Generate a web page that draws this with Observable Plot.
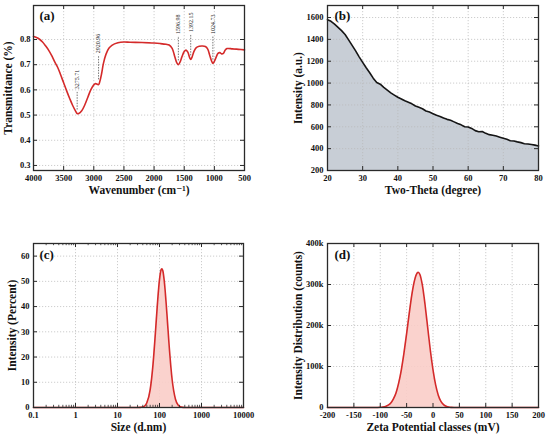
<!DOCTYPE html>
<html><head><meta charset="utf-8">
<script src="https://cdn.jsdelivr.net/npm/d3@7"></script>
<script src="https://cdn.jsdelivr.net/npm/@observablehq/plot@0.6"></script>
<style>
body{margin:0;background:#fff;}
#fig{position:relative;width:550px;height:437px;overflow:hidden;background:#fff;}
#fig svg{position:absolute;}
</style></head><body><div id="fig"></div>
<script>
// ---------- (a) FTIR ----------
const ftirWavenumber = [4000,3950,3900,3850,3800,3750,3700,3650,3600,3550,3500,3450,3400,3350,3300,3275,3250,3200,3150,3100,3050,3000,2970,2940,2920,2900,2870,2840,2800,2750,2700,2600,2500,2400,2200,2000,1900,1800,1750,1700,1660,1620,1597,1570,1540,1500,1470,1440,1410,1392,1370,1340,1300,1250,1200,1150,1110,1080,1050,1025,1000,970,940,910,880,850,820,790,700,600,500];
const ftirTransmittance = [0.812,0.808,0.801,0.790,0.775,0.758,0.737,0.712,0.690,0.660,0.628,0.596,0.566,0.538,0.515,0.506,0.506,0.517,0.540,0.570,0.600,0.620,0.625,0.622,0.621,0.633,0.665,0.705,0.740,0.765,0.777,0.787,0.790,0.789,0.788,0.786,0.784,0.781,0.778,0.765,0.735,0.706,0.700,0.710,0.730,0.752,0.758,0.750,0.728,0.721,0.730,0.752,0.768,0.773,0.774,0.772,0.762,0.740,0.717,0.705,0.713,0.730,0.745,0.748,0.743,0.745,0.758,0.764,0.763,0.761,0.759];
const ftirXTicks = [4000,3500,3000,2500,2000,1500,1000,500];
const ftirYTicks = [0.3,0.4,0.5,0.6,0.7,0.8];
const peakWavenumber = [3275.71,2920.96,1596.98,1392.15,1024.73];
const peakLabels = ["3275.71","2920.96","1596.98","1392.15","1024.73"];
const peakTextY = [0.603,0.745,0.822,0.830,0.822];
const peakLineTop = [0.59,0.735,0.812,0.82,0.812];
const peakLineBottom = [0.52,0.64,0.715,0.735,0.718];

// ---------- (b) XRD ----------
const xrdTheta = [20,21,22,23,24,25,26,27,28,29,30,31,32,33,34,35,36,37,38,39,40,41,42,43,44,45,46,47,48,49,50,51,52,53,54,55,56,57,58,59,60,61,62,63,64,65,66,67,68,69,70,71,72,73,74,75,76,77,78,79,80];
const xrdIntensity = [1580,1565,1540,1510,1480,1445,1395,1345,1295,1240,1190,1140,1095,1045,1005,990,960,935,910,890,870,855,838,825,810,790,778,765,745,735,720,705,695,680,668,660,645,630,618,600,598,585,565,555,557,540,528,522,515,505,495,485,472,470,462,455,445,442,438,432,425];
const xrdXTicks = [20,30,40,50,60,70,80];
const xrdYTicks = [200,400,600,800,1000,1200,1400,1600];

// ---------- (c) DLS size ----------
const dlsSize = [0.1,1,10,30,40,45,50,60,70,80,90,100,110,115,120,130,150,170,200,240,280,330,400,1000,10000];
const dlsIntensity = [0,0,0,0,0.2,0.7,1.9,7.1,17,29.7,41.9,50.7,54.7,55,54.2,50.1,37.2,24.3,11,3.3,0.9,0.2,0,0,0];
const dlsXTicks = [0.1,1,10,100,1000,10000];
const dlsXTickLabels = ["0.1","1","10","100","1000","10000"];
const dlsMinorTicks = [0.2,0.3,0.4,0.5,0.6,0.7,0.8,0.9,2,3,4,5,6,7,8,9,20,30,40,50,60,70,80,90,200,300,400,500,600,700,800,900,2000,3000,4000,5000,6000,7000,8000,9000];
const dlsYTicks = [0,10,20,30,40,50,60];

// ---------- (d) Zeta potential (counts, thousands) ----------
const zetaMv = [-200,-150,-110,-100,-95,-90,-85,-80,-75,-70,-65,-60,-55,-50,-45,-40,-35,-30,-28,-25,-20,-15,-10,-5,0,5,10,15,20,25,30,35,40,50,100,200];
const zetaCountsK = [0,0,0,0.5,1.2,2.7,5.7,11,21,36,60,92,133,180,230,276,310,328,330,325,297,250,194,139,92,55,30,15,7,3,1,0.3,0,0,0,0];
const zetaXTicks = [-200,-150,-100,-50,0,50,100,150,200];
const zetaYTicks = [0,100,200,300,400];

const RED = "#d42a2a", PINK = "#f9cdc8", FRAME = "#2a2a2a";
const fontStyle = {fontFamily: "'Liberation Serif', 'DejaVu Serif', serif", fontSize: "8.5px", fontWeight: "bold", color: "#111", background: "transparent", overflow: "visible"};
const gridOpts = {stroke: "#b8b8b8", strokeOpacity: 1, strokeWidth: 0.7, strokeDasharray: "1.2,1.8"};

function frameTicks(xT, yT, W, H, len, xMinor) {
  const m = [
    Plot.tickX(xT, {x: d => d, insetTop: H - len, stroke: FRAME, strokeWidth: 1}),
    Plot.tickX(xT, {x: d => d, insetBottom: H - len, stroke: FRAME, strokeWidth: 1}),
    Plot.tickY(yT, {y: d => d, insetRight: W - len, stroke: FRAME, strokeWidth: 1}),
    Plot.tickY(yT, {y: d => d, insetLeft: W - len, stroke: FRAME, strokeWidth: 1})
  ];
  if (xMinor) {
    m.push(Plot.tickX(xMinor, {x: d => d, insetTop: H - len * 0.55, stroke: FRAME, strokeWidth: 0.8}));
    m.push(Plot.tickX(xMinor, {x: d => d, insetBottom: H - len * 0.55, stroke: FRAME, strokeWidth: 0.8}));
  }
  return m;
}
function titles(letter, xTitle, yTitle, xdy, ydx, ldx, ldy) {
  return [
    Plot.text([xTitle], {frameAnchor: "bottom", textAnchor: "middle", lineAnchor: "middle", dy: xdy, fontSize: 11.5, fontWeight: "bold", fill: "#111"}),
    Plot.text([yTitle], {frameAnchor: "left", textAnchor: "middle", lineAnchor: "middle", rotate: -90, dx: ydx, fontSize: 11.5, fontWeight: "bold", fill: "#111"}),
    Plot.text([letter], {frameAnchor: "top-left", textAnchor: "start", lineAnchor: "top", dx: ldx, dy: ldy, fontSize: 13, fontWeight: "bold", fill: "#111"})
  ];
}
function place(svg, left, top) {
  svg.style.left = left + "px";
  svg.style.top = top + "px";
  document.getElementById("fig").appendChild(svg);
}

// (a)
{
  const ml = 33, mr = 31, mt = 5, mb = 45, w = 275, h = 215;
  const W = w - ml - mr, H = h - mt - mb;
  const data = ftirWavenumber.map((x, i) => ({x, y: ftirTransmittance[i]}));
  const peaks = peakWavenumber.map((x, i) => ({x, label: peakLabels[i], ty: peakTextY[i], y1: peakLineBottom[i], y2: peakLineTop[i]}));
  const p = Plot.plot({
    width: w, height: h, marginLeft: ml, marginRight: mr, marginTop: mt, marginBottom: mb,
    style: fontStyle,
    x: {domain: [4000, 500]},
    y: {domain: [0.28, 0.935]},
    marks: [
      Plot.gridX(ftirXTicks, gridOpts),
      Plot.gridY(ftirYTicks, gridOpts),
      Plot.line(data, {x: "x", y: "y", stroke: RED, strokeWidth: 1.6, curve: "catmull-rom"}),
      Plot.ruleX(peaks, {x: "x", y1: "y1", y2: "y2", stroke: "#555", strokeWidth: 0.8, strokeDasharray: "1.5,1.2"}),
      Plot.text(peaks, {x: "x", y: "ty", text: "label", rotate: -90, textAnchor: "start", lineAnchor: "middle", fontSize: 6, fontWeight: "normal", fill: "#222"}),
      Plot.axisX({ticks: ftirXTicks, tickSize: 0, tickPadding: 4, label: null, tickFormat: d => String(d)}),
      Plot.axisY({ticks: ftirYTicks, tickSize: 0, tickPadding: 3, label: null, tickFormat: d => d.toFixed(1)}),
      ...frameTicks(ftirXTicks, ftirYTicks, W, H, 4),
      Plot.frame({stroke: FRAME, strokeWidth: 1.3}),
      ...titles("(a)", "Wavenumber (cm\u207B\u00B9)", "Transmittance (%)", 20, -25, 6, 5)
    ]
  });
  place(p, 0, 0);
}

// (b)
{
  const ml = 52, mr = 12, mt = 5, mb = 45, w = 275, h = 215;
  const W = w - ml - mr, H = h - mt - mb;
  const data = xrdTheta.map((x, i) => ({x, y: xrdIntensity[i]}));
  const p = Plot.plot({
    width: w, height: h, marginLeft: ml, marginRight: mr, marginTop: mt, marginBottom: mb,
    style: fontStyle,
    x: {domain: [20, 80]},
    y: {domain: [200, 1710]},
    marks: [
      Plot.areaY(data, {x: "x", y1: 200, y2: "y", fill: "#c8ced6", fillOpacity: 1}),
      Plot.gridX(xrdXTicks, gridOpts),
      Plot.gridY(xrdYTicks, gridOpts),
      Plot.line(data, {x: "x", y: "y", stroke: "#151515", strokeWidth: 1.6}),
      Plot.axisX({ticks: xrdXTicks, tickSize: 0, tickPadding: 4, label: null}),
      Plot.axisY({ticks: xrdYTicks, tickSize: 0, tickPadding: 4, label: null, tickFormat: d => String(d)}),
      ...frameTicks(xrdXTicks, xrdYTicks, W, H, 4),
      Plot.frame({stroke: FRAME, strokeWidth: 1.3}),
      ...titles("(b)", "Two-Theta (degree)", "Intensity (a.u.)", 20, -29, 7, 5)
    ]
  });
  place(p, 275, 0);
}

// (c)
{
  const ml = 33, mr = 32, mt = 13, mb = 30, w = 275, h = 207;
  const W = w - ml - mr, H = h - mt - mb;
  const data = dlsSize.map((x, i) => ({x, y: dlsIntensity[i]}));
  const p = Plot.plot({
    width: w, height: h, marginLeft: ml, marginRight: mr, marginTop: mt, marginBottom: mb,
    style: fontStyle,
    x: {type: "log", domain: [0.1, 10000]},
    y: {domain: [0, 65]},
    marks: [
      Plot.gridX(dlsXTicks, gridOpts),
      Plot.gridY(dlsYTicks, gridOpts),
      Plot.areaY(data, {x: "x", y: "y", fill: PINK, fillOpacity: 0.9, curve: "monotone-x"}),
      Plot.line(data, {x: "x", y: "y", stroke: RED, strokeWidth: 1.6, curve: "monotone-x"}),
      Plot.axisX({ticks: dlsXTicks, tickSize: 0, tickPadding: 4, label: null, tickFormat: d => dlsXTickLabels[dlsXTicks.indexOf(d)]}),
      Plot.axisY({ticks: dlsYTicks, tickSize: 0, tickPadding: 4, label: null}),
      ...frameTicks(dlsXTicks, dlsYTicks, W, H, 4, dlsMinorTicks),
      Plot.frame({stroke: FRAME, strokeWidth: 1.3}),
      ...titles("(c)", "Size (d.nm)", "Intensity (Percent)", 20, -21, 6, 6)
    ]
  });
  place(p, 0, 230);
}

// (d)
{
  const ml = 52, mr = 12, mt = 13, mb = 30, w = 275, h = 207;
  const W = w - ml - mr, H = h - mt - mb;
  const data = zetaMv.map((x, i) => ({x, y: zetaCountsK[i]}));
  const p = Plot.plot({
    width: w, height: h, marginLeft: ml, marginRight: mr, marginTop: mt, marginBottom: mb,
    style: fontStyle,
    x: {domain: [-200, 200]},
    y: {domain: [0, 400]},
    marks: [
      Plot.gridX(zetaXTicks, gridOpts),
      Plot.gridY(zetaYTicks, gridOpts),
      Plot.areaY(data, {x: "x", y: "y", fill: PINK, fillOpacity: 0.9, curve: "monotone-x"}),
      Plot.line(data, {x: "x", y: "y", stroke: RED, strokeWidth: 1.6, curve: "monotone-x"}),
      Plot.axisX({ticks: zetaXTicks, tickSize: 0, tickPadding: 4, label: null, tickFormat: d => String(d)}),
      Plot.axisY({ticks: zetaYTicks, tickSize: 0, tickPadding: 4, label: null, tickFormat: d => d === 0 ? "0" : d + "k"}),
      ...frameTicks(zetaXTicks, zetaYTicks, W, H, 4),
      Plot.frame({stroke: FRAME, strokeWidth: 1.3}),
      ...titles("(d)", "Zeta Potential classes (mV)", "Intensity Distribution (counts)", 20, -29, 7, 6)
    ]
  });
  place(p, 275, 230);
}
</script>
</body></html>
